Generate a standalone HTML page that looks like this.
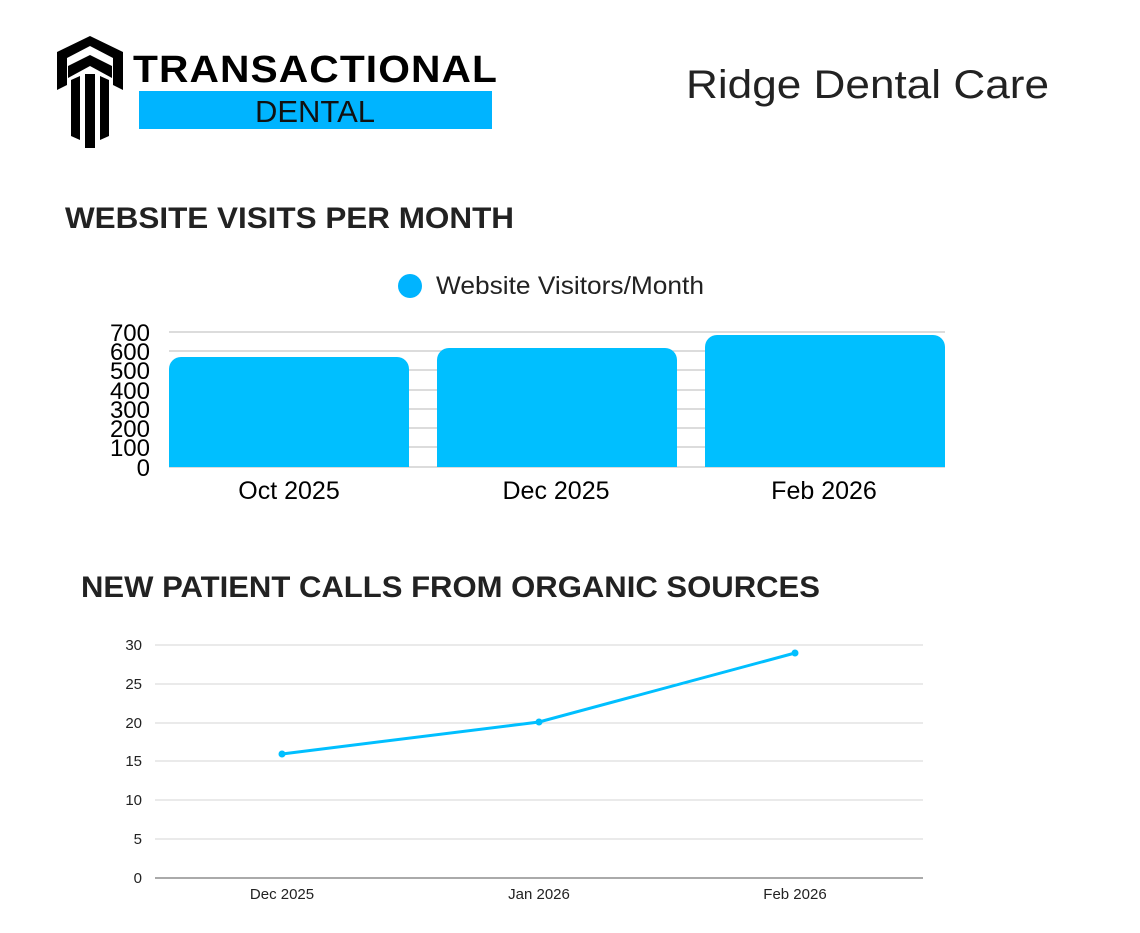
<!DOCTYPE html>
<html><head><meta charset="utf-8"><style>
body{margin:0;background:#fff;width:1140px;height:928px;overflow:hidden;font-family:"Liberation Sans",sans-serif}
</style></head><body>
<svg width="1140" height="928" xmlns="http://www.w3.org/2000/svg" font-family="Liberation Sans, sans-serif">
<g fill="#000">
<polygon points="57,52 90,36 123,52 123,90 113,85 113,58 90,46 67,58 67,85 57,90"/>
<polygon points="68,66 90,55 112,66 112,78 90,66 68,78"/>
<polygon points="71,80 80,76 80,140 71,136"/>
<polygon points="85,74 95,74 95,148 85,148"/>
<polygon points="100,76 109,80 109,136 100,140"/>
</g>
<text x="133" y="82" font-size="38" font-weight="bold" fill="#000" letter-spacing="1" textLength="365" lengthAdjust="spacingAndGlyphs">TRANSACTIONAL</text>
<rect x="139" y="91" width="353" height="38" fill="#00b4ff"/>
<text x="315" y="122" font-size="31" fill="#111" text-anchor="middle">DENTAL</text>
<text x="686" y="98" font-size="40" fill="#222" textLength="363" lengthAdjust="spacingAndGlyphs">Ridge Dental Care</text>

<text x="65" y="228" font-size="30" font-weight="bold" fill="#222" textLength="449" lengthAdjust="spacingAndGlyphs">WEBSITE VISITS PER MONTH</text>
<circle cx="410" cy="286" r="12" fill="#00b4ff"/>
<text x="436" y="294" font-size="25" fill="#222" textLength="268" lengthAdjust="spacingAndGlyphs">Website Visitors/Month</text>
<g stroke="#d0d0d0" stroke-width="1.5">
<line x1="169" y1="332" x2="945" y2="332"/><line x1="169" y1="351" x2="945" y2="351"/>
<line x1="169" y1="370" x2="945" y2="370"/><line x1="169" y1="390" x2="945" y2="390"/>
<line x1="169" y1="409" x2="945" y2="409"/><line x1="169" y1="428" x2="945" y2="428"/>
<line x1="169" y1="447" x2="945" y2="447"/><line x1="169" y1="467" x2="945" y2="467"/>
</g>
<g font-size="24" fill="#000" text-anchor="end">
<text x="150" y="341">700</text><text x="150" y="360">600</text><text x="150" y="379">500</text>
<text x="150" y="399">400</text><text x="150" y="418">300</text><text x="150" y="437">200</text>
<text x="150" y="456">100</text><text x="150" y="476">0</text>
</g>
<g fill="#00bfff">
<path d="M169,467 V369 a12,12 0 0 1 12,-12 H397 a12,12 0 0 1 12,12 V467Z"/>
<path d="M437,467 V360 a12,12 0 0 1 12,-12 H665 a12,12 0 0 1 12,12 V467Z"/>
<path d="M705,467 V347 a12,12 0 0 1 12,-12 H933 a12,12 0 0 1 12,12 V467Z"/>
</g>
<g font-size="25" fill="#000" text-anchor="middle">
<text x="289" y="499">Oct 2025</text><text x="556" y="499">Dec 2025</text><text x="824" y="499">Feb 2026</text>
</g>

<text x="81" y="597" font-size="30" font-weight="bold" fill="#222" textLength="739" lengthAdjust="spacingAndGlyphs">NEW PATIENT CALLS FROM ORGANIC SOURCES</text>
<g stroke="#d4d4d4" stroke-width="1">
<line x1="155" y1="645" x2="923" y2="645"/><line x1="155" y1="684" x2="923" y2="684"/>
<line x1="155" y1="723" x2="923" y2="723"/><line x1="155" y1="761" x2="923" y2="761"/>
<line x1="155" y1="800" x2="923" y2="800"/><line x1="155" y1="839" x2="923" y2="839"/>
</g>
<line x1="155" y1="878" x2="923" y2="878" stroke="#555" stroke-width="1"/>
<g font-size="15" fill="#222" text-anchor="end">
<text x="142" y="650">30</text><text x="142" y="689">25</text><text x="142" y="728">20</text>
<text x="142" y="766">15</text><text x="142" y="805">10</text><text x="142" y="844">5</text><text x="142" y="883">0</text>
</g>
<g font-size="15" fill="#222" text-anchor="middle">
<text x="282" y="899">Dec 2025</text><text x="539" y="899">Jan 2026</text><text x="795" y="899">Feb 2026</text>
</g>
<polyline points="282,754 539,722 795,653" fill="none" stroke="#00bfff" stroke-width="3"/>
<g fill="#00bfff"><circle cx="282" cy="754" r="3.5"/><circle cx="539" cy="722" r="3.5"/><circle cx="795" cy="653" r="3.5"/></g>
</svg>
</body></html>
